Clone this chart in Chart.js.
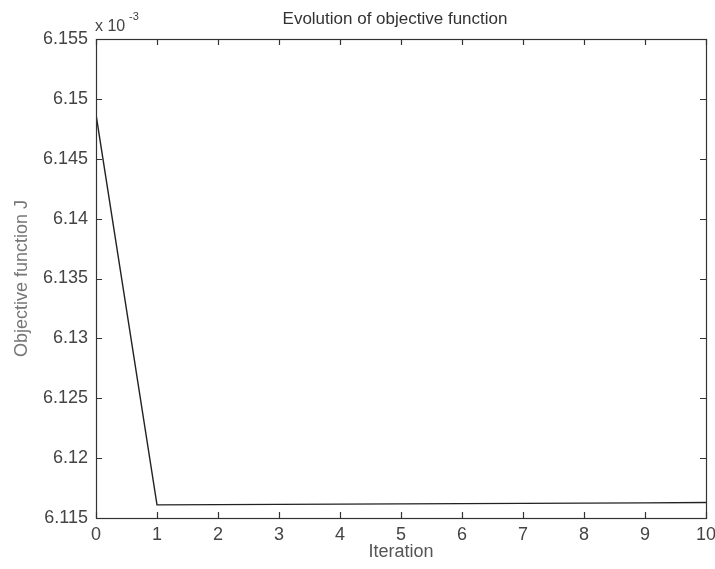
<!DOCTYPE html>
<html>
<head>
<meta charset="utf-8">
<script src="https://cdn.jsdelivr.net/npm/chart.js@4.4.1/dist/chart.umd.min.js"></script>
<style>
  html, body { margin: 0; padding: 0; background: #fff; }
  #wrap { width: 715px; height: 569px; position: relative; }
</style>
</head>
<body>
<div id="wrap"><canvas id="c" width="715" height="569"></canvas></div>
<script>
// Data (objective function values, in units of 1e-3)
const iterations = [0, 1, 2, 3, 4, 5, 6, 7, 8, 9, 10];
const objectiveJ = [6.1487, 6.1161, 6.11612, 6.11614, 6.11616, 6.11618, 6.1162, 6.11622, 6.11624, 6.11626, 6.1163];
const xTicks = [0, 1, 2, 3, 4, 5, 6, 7, 8, 9, 10];
const yTicks = [6.115, 6.12, 6.125, 6.13, 6.135, 6.14, 6.145, 6.15, 6.155];
const titleText = 'Evolution of objective function';
const xLabel = 'Iteration';
const yLabel = 'Objective function J';
const exponentText = '-3';

const FONT = '"Liberation Sans", Arial, sans-serif';

const frameTicks = {
  id: 'frameTicks',
  afterDraw(chart) {
    const ctx = chart.ctx;
    const a = chart.chartArea;
    const xs = chart.scales.x, ys = chart.scales.y;
    ctx.save();
    ctx.strokeStyle = '#333';
    ctx.lineWidth = 1.2;
    ctx.strokeRect(Math.round(a.left) + 0.5, Math.round(a.top) + 0.5,
                   Math.round(a.right - a.left), Math.round(a.bottom - a.top));
    const L = 6;
    ctx.beginPath();
    xTicks.forEach(v => {
      const px = Math.round(xs.getPixelForValue(v)) + 0.5;
      ctx.moveTo(px, a.bottom); ctx.lineTo(px, a.bottom - L);
      ctx.moveTo(px, a.top); ctx.lineTo(px, a.top + L);
    });
    yTicks.forEach(v => {
      const py = Math.round(ys.getPixelForValue(v)) + 0.5;
      ctx.moveTo(a.left, py); ctx.lineTo(a.left + L, py);
      ctx.moveTo(a.right, py); ctx.lineTo(a.right - L, py);
    });
    ctx.stroke();
    // Title
    ctx.fillStyle = '#333';
    ctx.font = '17px ' + FONT;
    ctx.textAlign = 'center';
    ctx.textBaseline = 'middle';
    ctx.fillText(titleText, 395, 19);
    // Exponent label
    ctx.fillStyle = '#444';
    ctx.textAlign = 'left';
    ctx.font = '16px ' + FONT;
    ctx.fillText('x 10', a.left - 1, 27);
    ctx.font = '11px ' + FONT;
    ctx.fillText(exponentText, a.left + 33, 17);
    ctx.restore();
  }
};

new Chart(document.getElementById('c'), {
  type: 'line',
  data: {
    labels: iterations,
    datasets: [{
      data: iterations.map((x, i) => ({ x: x, y: objectiveJ[i] })),
      borderColor: '#222',
      borderWidth: 1.4,
      pointRadius: 0,
      tension: 0,
      fill: false
    }]
  },
  options: {
    responsive: false,
    animation: false,
    devicePixelRatio: 1,
    layout: { padding: { top: 39, right: 9, left: 0, bottom: 0 } },
    plugins: { legend: { display: false }, title: { display: false }, tooltip: { enabled: false } },
    scales: {
      x: {
        type: 'linear',
        min: 0, max: 10,
        afterBuildTicks: s => { s.ticks = xTicks.map(v => ({ value: v })); },
        afterFit: s => { s.height = 51; s.paddingLeft = 0; s.paddingRight = 0; },
        grid: { display: false, drawTicks: false },
        border: { display: false },
        ticks: { color: '#444', font: { family: FONT, size: 18 }, padding: 6, maxRotation: 0, autoSkip: false },
        title: { display: true, text: xLabel, color: '#555', font: { family: FONT, size: 18 }, padding: { top: 0, bottom: 6 } }
      },
      y: {
        type: 'linear',
        min: 6.115, max: 6.155,
        afterBuildTicks: s => { s.ticks = yTicks.map(v => ({ value: v })); },
        afterFit: s => { s.width = 96; s.paddingTop = 0; s.paddingBottom = 0; },
        grid: { display: false, drawTicks: false },
        border: { display: false },
        ticks: {
          color: '#444', font: { family: FONT, size: 18 }, padding: 8, autoSkip: false,
          callback: v => Number(Number(v).toFixed(3)).toString()
        },
        title: { display: true, text: yLabel, color: '#777', font: { family: FONT, size: 18 }, padding: { top: 11, bottom: 0 } }
      }
    }
  },
  plugins: [frameTicks]
});
</script>
</body>
</html>
